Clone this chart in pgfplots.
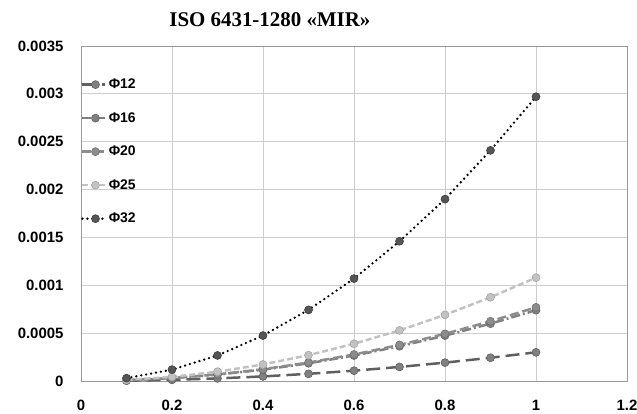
\documentclass[border=0pt]{standalone}
\usepackage{pgfplots}
\pgfplotsset{compat=1.18}
\usepackage{fontspec}
\setmainfont{Liberation Sans}
\newfontfamily\titlefont{Liberation Serif}
\definecolor{gA}{HTML}{5F5F5F}
\definecolor{gB}{HTML}{808080}
\definecolor{gC}{HTML}{8C8C8C}
\definecolor{gD}{HTML}{C2C2C2}
\definecolor{gE}{HTML}{555555}
\definecolor{gridc}{HTML}{CDCDCD}
\begin{document}
\begin{tikzpicture}[x=1bp,y=1bp]
\begin{axis}[
  at={(0,0)}, anchor=south west,
  scale only axis,
  width=546bp, height=335bp,
  xmin=0, xmax=1.2, ymin=0, ymax=0.0035,
  xtick={0,0.2,...,1.2},
  ytick={0,0.0005,0.001,0.0015,0.002,0.0025,0.003,0.0035},
  scaled y ticks=false,
  yticklabel style={/pgf/number format/fixed, /pgf/number format/precision=4,
    /pgf/number format/1000 sep={}, xshift=-14bp},
  /pgf/number format/assume math mode=true,
  tick label style={font=\fontsize{15}{17}\selectfont\bfseries},
  xticklabel style={inner sep=1bp, yshift=-18bp},
  major tick length=0pt,
  grid=major,
  grid style={line width=0.8pt, draw=gridc},
  axis line style={draw=gray!80, line width=0.8pt},
  title={\titlefont\bfseries\fontsize{21}{24}\selectfont ISO 6431-1280 «MIR»},
  title style={at={(0.346,1)}, anchor=base, yshift=14bp, inner sep=0pt},
  legend style={at={(0,0.908)}, anchor=north west, draw=none, fill=none,
    inner sep=0pt, row sep=18.3bp,
    font=\fontsize{14}{15}\selectfont\bfseries},
  legend cell align=left,
  legend image code/.code={\draw[mark repeat=2, mark phase=2, #1] plot coordinates {(0bp,0bp) (13bp,0bp) (23bp,0bp)};},
  every axis plot/.append style={line width=2.5pt, mark=*, mark size=4pt},
]
\addplot[gA, dash pattern=on 14bp off 6bp, mark options={solid, fill=gB, draw=gA, line width=0.6pt}]
  coordinates {(0.1,0.000003)(0.2,0.000012)(0.3,0.000027)(0.4,0.000048)(0.5,0.000075)(0.6,0.000108)(0.7,0.000147)(0.8,0.000192)(0.9,0.000243)(1,0.0003)};
\addlegendentry{Φ12}
\addplot[gB, dash pattern=on 9bp off 3bp on 2bp off 3bp, mark options={solid, fill=gB, draw=gB!80!black, line width=0.6pt}]
  coordinates {(0.1,0.0000074)(0.2,0.0000296)(0.3,0.0000666)(0.4,0.000118)(0.5,0.000185)(0.6,0.000266)(0.7,0.000363)(0.8,0.000474)(0.9,0.000599)(1,0.00074)};
\addlegendentry{Φ16}
\addplot[gC, dash pattern=on 9bp off 4bp, mark options={solid, fill=gC, draw=gC!80!black, line width=0.6pt}]
  coordinates {(0.1,0.0000077)(0.2,0.0000308)(0.3,0.0000693)(0.4,0.000123)(0.5,0.000193)(0.6,0.000277)(0.7,0.000377)(0.8,0.000493)(0.9,0.000624)(1,0.00077)};
\addlegendentry{Φ20}
\addplot[gD, dash pattern=on 6bp off 3bp, mark options={solid, fill=gD, draw=gD!85!black, line width=0.6pt}]
  coordinates {(0.1,0.0000108)(0.2,0.0000432)(0.3,0.0000972)(0.4,0.000173)(0.5,0.00027)(0.6,0.000389)(0.7,0.000529)(0.8,0.000691)(0.9,0.000875)(1,0.00108)};
\addlegendentry{Φ25}
\addplot[black, line width=2.6pt, line cap=round, dash pattern=on 0bp off 5bp, mark options={solid, fill=gE, draw=gE!70!black, line width=0.6pt}]
  coordinates {(0.1,0.0000297)(0.2,0.000119)(0.3,0.000267)(0.4,0.000475)(0.5,0.000743)(0.6,0.00107)(0.7,0.00146)(0.8,0.0019)(0.9,0.00241)(1,0.00297)};
\addlegendentry{Φ32}
\end{axis}
\pgfresetboundingbox
\path[use as bounding box] (-81,-32) rectangle (556,381);
\end{tikzpicture}
\end{document}
